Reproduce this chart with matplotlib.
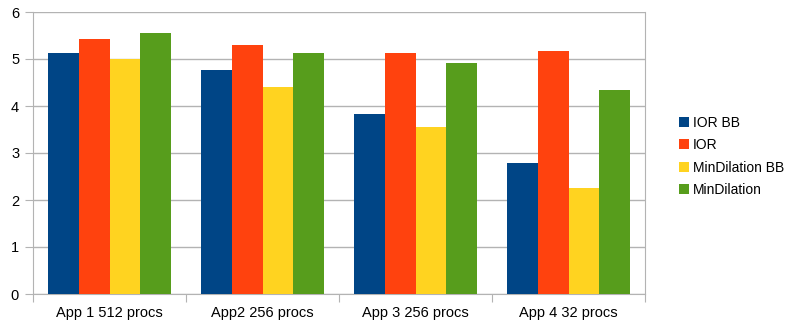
import numpy as np
import matplotlib.pyplot as plt

plt.rcParams['font.family'] = ['Liberation Sans', 'DejaVu Sans']

# data
apps = ['App 1 512 procs', 'App2 256 procs', 'App 3 256 procs', 'App 4 32 procs']
series = ['IOR BB', 'IOR', 'MinDilation BB', 'MinDilation']
ior_bb = [5.13, 4.77, 3.82, 2.78]
ior = [5.42, 5.30, 5.13, 5.16]
mindil_bb = [5.00, 4.40, 3.56, 2.26]
mindil = [5.56, 5.13, 4.91, 4.35]
colors = ['#004586', '#ff420e', '#ffd320', '#579d1c']

fig = plt.figure(figsize=(7.91, 3.24), dpi=100)
ax = fig.add_axes([33 / 791, 30 / 324, 612 / 791, 282 / 324])

x = np.arange(len(apps))
w = 0.2
for i, vals in enumerate([ior_bb, ior, mindil_bb, mindil]):
    ax.bar(x + (i - 1.5) * w, vals, w, color=colors[i], label=series[i],
           zorder=3)

ax.set_xlim(-0.5, len(apps) - 0.5)
ax.set_ylim(0, 6)
ax.set_yticks(range(7))
ax.yaxis.grid(True, color='#b3b3b3', linewidth=1, zorder=0)

# category ticks between groups, labels centered
ax.set_xticks(np.arange(-0.5, len(apps)), minor=False)
ax.set_xticklabels([])
ax.set_xticks(x, minor=True)
ax.set_xticklabels(apps, minor=True)
ax.tick_params(axis='x', which='minor', length=0, pad=9, labelsize=10.5)
ax.tick_params(axis='x', which='major', length=6, color='#b3b3b3')
ax.tick_params(axis='y', length=6, color='#b3b3b3', labelsize=10.5, pad=4)

for s in ['left', 'bottom', 'right']:
    ax.spines[s].set_color('#b3b3b3')
ax.spines['top'].set_visible(False)

ax.legend(loc='center left', bbox_to_anchor=(1.035, 0.488), frameon=False,
          fontsize=10, handlelength=0.7, handleheight=0.7,
          handletextpad=0.3, labelspacing=0.6)

plt.savefig('out.png', dpi=100)
